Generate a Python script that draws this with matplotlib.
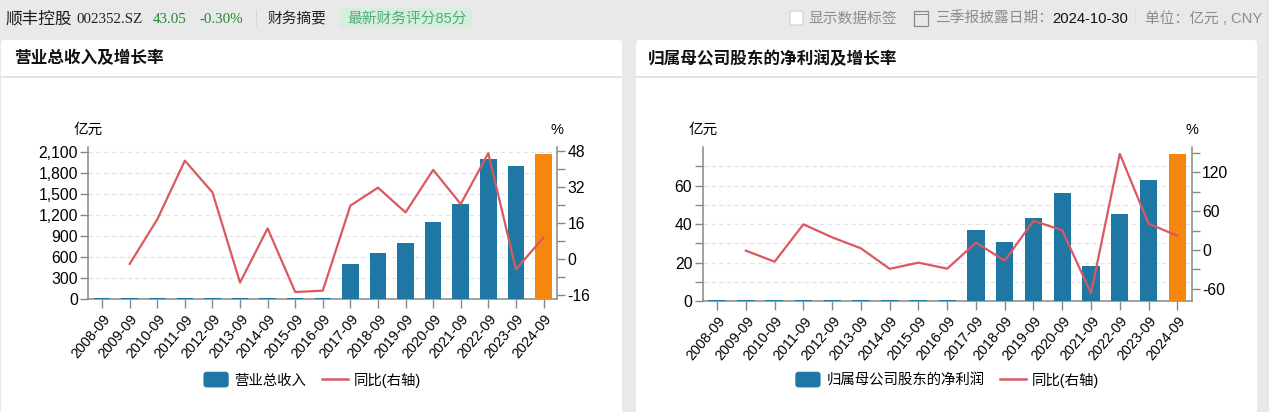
import matplotlib
matplotlib.use('Agg')
import matplotlib.pyplot as plt
from matplotlib.patches import FancyBboxPatch, Rectangle, Patch
from matplotlib.lines import Line2D
from matplotlib.legend_handler import HandlerPatch
from matplotlib.transforms import ScaledTranslation

plt.rcParams['font.family'] = ['Liberation Sans', 'Noto Sans CJK SC', 'DejaVu Sans']

W, H = 1269, 412
BAR_COLOUR = '#1f77a4'
LAST_COLOUR = '#f7860f'
LINE_COLOUR = '#d9595f'
AXIS_COLOUR = '#888888'
GRID_COLOUR = '#e2e2e2'

periods = ['2008-09', '2009-09', '2010-09', '2011-09', '2012-09', '2013-09',
           '2014-09', '2015-09', '2016-09', '2017-09', '2018-09', '2019-09',
           '2020-09', '2021-09', '2022-09', '2023-09', '2024-09']

revenue = [9, 9, 10, 11, 12, 12, 13, 11, 9, 500, 653, 796, 1105, 1361, 2000, 1896, 2076]
revenue_yoy = [None, -2.2, 17.6, 43.7, 29.6, -10.5, 13.6, -14.7, -14.1, 23.7, 31.7,
               20.7, 39.6, 24.4, 47, -4.6, 9.5]
profit = [0.4, 0.4, 0.4, 0.5, 0.6, 0.5, 0.5, 0.4, 0.3, 36.7, 30.5, 43.3, 56.3, 18,
          45, 62.9, 76.5]
profit_yoy = [None, -1, -18, 39.5, 19.5, 2.6, -29, -19.5, -28.7, 11.3, -16.4, 45,
              30.3, -66.7, 148, 40.5, 22]

rev_ticks = [0, 300, 600, 900, 1200, 1500, 1800, 2100]
rev_yoy_ticks = [-16, -8, 0, 8, 16, 24, 32, 40, 48]
profit_ticks = [0, 10, 20, 30, 40, 50, 60, 70]
profit_yoy_ticks = [-60, -30, 0, 30, 60, 90, 120, 150]


class RoundedHandler(HandlerPatch):
    def create_artists(self, legend, orig_handle, xdescent, ydescent, width, height, fontsize, trans):
        p = FancyBboxPatch((-xdescent, -ydescent - 1), width, height + 2,
                           boxstyle='round,pad=0,rounding_size=2.5',
                           facecolor=orig_handle.get_facecolor(), edgecolor='none')
        p.set_transform(trans)
        return [p]


def draw_chart(fig, box, bars, yoy, left_ticks, left_lim, right_ticks, right_lim,
               left_fmt, right_fmt, legend_name, legend_x):
    x0, x1, top, bottom = box
    ax = fig.add_axes([x0 / W, 1 - bottom / H, (x1 - x0) / W, (bottom - top) / H])
    ax.patch.set_alpha(0)
    xs = list(range(len(periods)))
    colours = [BAR_COLOUR] * (len(bars) - 1) + [LAST_COLOUR]
    ax.bar(xs, bars, width=0.6, color=colours, zorder=3)
    ax.set_xlim(-0.5, len(periods) - 0.5)
    ax.set_ylim(*left_lim)
    ax.set_yticks(left_ticks)
    ax.set_yticklabels([left_fmt(v) for v in left_ticks], fontsize=11.3)
    ax.set_xticks(xs)
    ax.set_xticklabels(periods, rotation=50, ha='right', rotation_mode='anchor', fontsize=10.3)
    # labels sit a little left of their ticks
    offset = ScaledTranslation(-4 / 100, 0, fig.dpi_scale_trans)
    for label in ax.get_xticklabels():
        label.set_transform(label.get_transform() + offset)
    ax.tick_params(axis='x', length=6.5, width=1, color=AXIS_COLOUR, pad=3)
    ax.tick_params(axis='y', length=6, width=1, color=AXIS_COLOUR, pad=1.5)
    ax.yaxis.grid(True, color=GRID_COLOUR, linestyle=(0, (4, 3)), linewidth=0.8, zorder=0)
    ax.set_axisbelow(True)
    ax.spines['top'].set_visible(False)
    ax.spines['right'].set_visible(False)
    for s in ['left', 'bottom']:
        ax.spines[s].set_color(AXIS_COLOUR)
        ax.spines[s].set_linewidth(1.1)

    ax2 = ax.twinx()
    ax2.patch.set_alpha(0)
    values = [float('nan') if v is None else v for v in yoy]
    ax2.plot(xs, values, color=LINE_COLOUR, linewidth=1.6, zorder=5)
    ax2.set_ylim(*right_lim)
    ax2.set_yticks(right_ticks)
    ax2.set_yticklabels([right_fmt(v) for v in right_ticks], fontsize=11.3)
    ax2.tick_params(axis='y', length=6, width=1, color=AXIS_COLOUR, pad=1.5)
    ax2.spines['top'].set_visible(False)
    ax2.spines['left'].set_visible(False)
    ax2.spines['bottom'].set_visible(False)
    ax2.spines['right'].set_color(AXIS_COLOUR)
    ax2.spines['right'].set_linewidth(1.1)

    fig.text(x0 / W, 1 - 129.5 / H, '亿元', fontsize=10.5, ha='center', va='center')
    fig.text(x1 / W, 1 - 129.5 / H, '%', fontsize=10.5, ha='center', va='center')

    handles = [Patch(facecolor=BAR_COLOUR), Line2D([0], [0], color=LINE_COLOUR, linewidth=1.8)]
    fig.legend(handles, [legend_name, '同比(右轴)'], ncol=2, loc='center',
               bbox_to_anchor=(legend_x / W, 1 - 380 / H), frameon=False, fontsize=10.4,
               handlelength=1.75, handleheight=1.0, handletextpad=0.4, columnspacing=1.1,
               handler_map={Patch: RoundedHandler()})


fig = plt.figure(figsize=(W / 100, H / 100), dpi=100, facecolor='#e9e9e9')

# page furniture drawn in pixel coordinates
bg = fig.add_axes([0, 0, 1, 1])
bg.set_xlim(0, W)
bg.set_ylim(H, 0)
bg.axis('off')
for cx0, cx1 in [(1, 622), (636, 1257)]:
    bg.add_patch(FancyBboxPatch((cx0, 40), cx1 - cx0, 400, boxstyle='round,pad=0,rounding_size=4',
                                facecolor='white', edgecolor='none'))
    bg.add_patch(Rectangle((cx0, 76), cx1 - cx0, 1.5, facecolor='#e3e3e3', edgecolor='none'))
bg.add_patch(FancyBboxPatch((339, 8), 133, 20, boxstyle='round,pad=0,rounding_size=2',
                            facecolor='#d6eedd', edgecolor='none'))
bg.add_patch(Rectangle((256, 10), 1, 16, facecolor='#d5d5d5', edgecolor='none'))
bg.add_patch(FancyBboxPatch((790, 11), 13, 14, boxstyle='round,pad=0,rounding_size=2',
                            facecolor='white', edgecolor='#d0d0d0', linewidth=0.8))
bg.add_patch(Rectangle((914, 11), 14, 15, facecolor='none', edgecolor='#8a8a8a', linewidth=0.9))
bg.add_patch(Rectangle((914, 14), 14, 0.8, facecolor='#8a8a8a', edgecolor='none'))
bg.add_patch(Rectangle((1135, 10), 1, 16, facecolor='#dddddd', edgecolor='none'))

serif = ['Liberation Serif', 'Noto Sans CJK SC']
bg.text(5, 23, '顺丰控股', fontsize=12, va='baseline', color='#1a1a1a')
bg.text(76, 23, '002352.SZ', fontsize=10.8, va='baseline', family=serif, color='#222222')
bg.text(153, 23, '43.05', fontsize=10.8, va='baseline', family=serif, color='#1e8a2e')
bg.text(199, 23, '-0.30%', fontsize=10.8, va='baseline', family=serif, color='#1e8a2e')
bg.text(267, 23, '财务摘要', fontsize=10.6, va='baseline', color='#222222')
bg.text(347, 23, '最新财务评分85分', fontsize=10.6, va='baseline', color='#4fae78')
bg.text(808, 23, '显示数据标签', fontsize=10.6, va='baseline', color='#8c8c8c')
bg.text(935, 23, '三季报披露日期：', fontsize=10.6, va='baseline', color='#8c8c8c')
bg.text(1052, 23, '2024-10-30', fontsize=10.6, va='baseline', color='#111111')
bg.text(1145, 23, '单位：亿元 , CNY', fontsize=10.6, va='baseline', color='#8c8c8c')
bg.text(14, 58.5, '营业总收入及增长率', fontsize=12, fontweight='bold', va='center', color='#111111')
bg.text(648, 58.5, '归属母公司股东的净利润及增长率', fontsize=12, fontweight='bold', va='center', color='#111111')

draw_chart(fig, (88.3, 557.3, 146.7, 299), revenue, revenue_yoy,
           rev_ticks, (0, 2176), rev_yoy_ticks, (-17.8, 49.9),
           lambda v: f'{v:,}', lambda v: str(v) if v % 16 == 0 else '',
           '营业总收入', 312)
draw_chart(fig, (702.7, 1191.7, 146.7, 301), profit, profit_yoy,
           profit_ticks, (0, 80.2), profit_yoy_ticks, (-78.5, 159),
           lambda v: str(v) if v % 20 == 0 else '', lambda v: str(v) if v % 60 == 0 else '',
           '归属母公司股东的净利润', 947)

fig.savefig('out.png', dpi=100, facecolor=fig.get_facecolor())
